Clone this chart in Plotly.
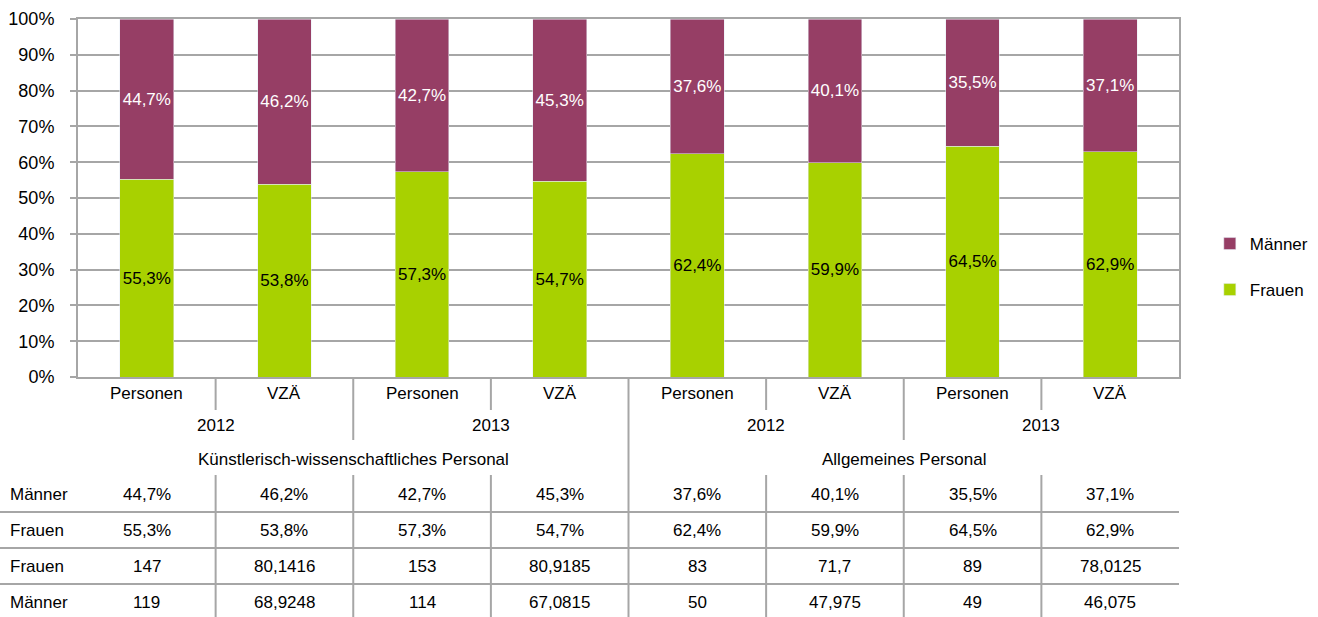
import plotly.graph_objects as go

# ---- data ----
categories = ["Personen", "VZÄ", "Personen", "VZÄ", "Personen", "VZÄ", "Personen", "VZÄ"]
years = ["2012", "2013", "2012", "2013"]
groups = ["Künstlerisch-wissenschaftliches Personal", "Allgemeines Personal"]
maenner_pct = [44.7, 46.2, 42.7, 45.3, 37.6, 40.1, 35.5, 37.1]
frauen_pct = [55.3, 53.8, 57.3, 54.7, 62.4, 59.9, 64.5, 62.9]
frauen_n = [147, 80.1416, 153, 80.9185, 83, 71.7, 89, 78.0125]
maenner_n = [119, 68.9248, 114, 67.0815, 50, 47.975, 49, 46.075]
y_ticks = [0, 0.1, 0.2, 0.3, 0.4, 0.5, 0.6, 0.7, 0.8, 0.9, 1.0]

C_M = "#963E65"
C_F = "#A8D100"
GRID = "#A6A6A6"
FONT = "Liberation Sans, Arial, sans-serif"
FS = 17

x = list(range(len(categories)))

fig = go.Figure()
fig.add_trace(go.Bar(
    x=x, y=[v / 100 for v in frauen_pct], name="Frauen", marker_color=C_F,
    width=0.39, texttemplate="%{y:.1%}", textposition="inside", textangle=0,
    insidetextanchor="middle", constraintext="none",
    textfont=dict(color="black", size=FS, family=FONT), legend="legend2",
))
fig.add_trace(go.Bar(
    x=x, y=[v / 100 for v in maenner_pct], name="Männer", marker_color=C_M,
    width=0.39, texttemplate="%{y:.1%}", textposition="inside", textangle=0,
    insidetextanchor="middle", constraintext="none",
    textfont=dict(color="white", size=FS, family=FONT), legend="legend",
))

def py(p):
    # pixel y -> paper y (plot area 19..377 px)
    return (377 - p) / 358.0

def fmt(v):
    return f"{v:g}".replace(".", ",")

tf = dict(size=FS, family=FONT, color="black")
ann = []
shapes = []
for i, c in enumerate(categories):
    ann.append(dict(x=i, y=py(393), xref="x", yref="paper", text=c, showarrow=False,
                    xanchor="center", yanchor="middle", font=tf))
for j, yr in enumerate(years):
    ann.append(dict(x=2 * j + 0.5, y=py(425), xref="x", yref="paper", text=yr, showarrow=False,
                    xanchor="center", yanchor="middle", font=tf))
for j, g in enumerate(groups):
    ann.append(dict(x=4 * j + 1.5, y=py(459), xref="x", yref="paper", text=g, showarrow=False,
                    xanchor="center", yanchor="middle", font=tf))

rows = [
    ("Männer", [fmt(v) + "%" for v in maenner_pct]),
    ("Frauen", [fmt(v) + "%" for v in frauen_pct]),
    ("Frauen", [fmt(v) for v in frauen_n]),
    ("Männer", [fmt(v) for v in maenner_n]),
]
row_y = [494, 530, 566, 602]
for (lab, vals), ry in zip(rows, row_y):
    ann.append(dict(x=(8 - 78) / 1101, y=py(ry), xref="paper", yref="paper", text=lab,
                    showarrow=False, xanchor="left", yanchor="middle", font=tf))
    for i, v in enumerate(vals):
        ann.append(dict(x=i, y=py(ry), xref="x", yref="paper", text=v, showarrow=False,
                        xanchor="center", yanchor="middle", font=tf))

line = dict(color=GRID, width=2)
for k in range(1, 8):
    xb = k - 0.5
    if k == 4:
        shapes.append(dict(type="line", xref="x", yref="paper", x0=xb, x1=xb,
                           y0=0, y1=py(617), line=line))
        continue
    bottom = py(440) if k % 2 == 0 else py(410)
    shapes.append(dict(type="line", xref="x", yref="paper", x0=xb, x1=xb,
                       y0=0, y1=bottom, line=line))
    shapes.append(dict(type="line", xref="x", yref="paper", x0=xb, x1=xb,
                       y0=py(475), y1=py(617), line=line))
for hy in [512, 548, 584]:
    shapes.append(dict(type="line", xref="paper", yref="paper", x0=-78 / 1101, x1=1,
                       y0=py(hy), y1=py(hy), line=line))

leg_common = dict(x=1.028, xanchor="left", yanchor="middle", font=tf,
                  itemwidth=30, bgcolor="rgba(0,0,0,0)")
fig.update_layout(
    width=1318, height=617,
    margin=dict(l=78, r=139, t=19, b=240, autoexpand=False),
    barmode="stack",
    separators=",.",
    plot_bgcolor="white", paper_bgcolor="white",
    font=tf,
    showlegend=True,
    legend=dict(y=py(244), **leg_common),
    legend2=dict(y=py(290), **leg_common),
    annotations=ann,
    shapes=shapes,
)
fig.update_xaxes(range=[-0.5, 7.5], showticklabels=False, showgrid=False,
                 showline=True, linecolor=GRID, linewidth=2, mirror=True, ticks="")
fig.update_yaxes(range=[0, 1], tickvals=y_ticks, tickformat=".0%", showgrid=True,
                 gridcolor=GRID, gridwidth=2, showline=True, linecolor=GRID, linewidth=2,
                 mirror=True, ticks="outside", ticklen=6, tickcolor=GRID, tickwidth=2,
                 ticklabelstandoff=12, tickfont=dict(size=18, family=FONT, color="black"),
                 zeroline=False)

fig.write_html("out.html", post_script="document.body.style.margin='0';",
               config={"displayModeBar": False})
